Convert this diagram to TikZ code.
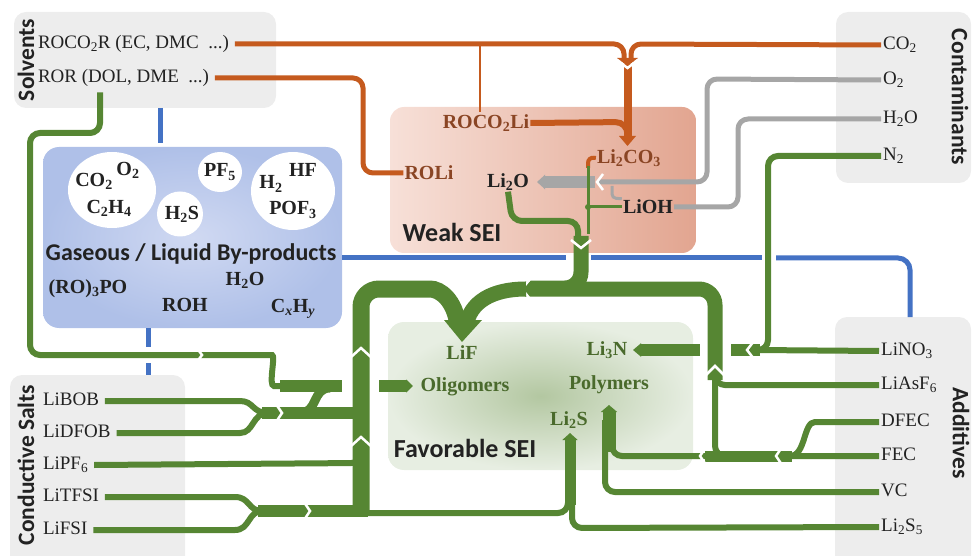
\documentclass[tikz,border=0pt]{standalone}
\usepackage{fontspec}
\setmainfont{Liberation Serif}
\newfontfamily\hdrfont{Carlito}
\usetikzlibrary{arrows.meta,shapes.geometric}
\definecolor{gr}{HTML}{568633}
\definecolor{orn}{HTML}{C55A1E}
\definecolor{blu}{HTML}{4472C4}
\definecolor{gry}{HTML}{A6A6A6}
\definecolor{boxg}{HTML}{EDEDED}
\definecolor{txt}{HTML}{222222}
\definecolor{brn}{HTML}{8A4524}
\definecolor{gtx}{HTML}{4A6A2C}
\definecolor{wl}{HTML}{F7E0D8}
\definecolor{wr}{HTML}{E2A590}
\definecolor{gin}{HTML}{D0D9F2}
\definecolor{gout}{HTML}{AFC0E8}
\definecolor{fin}{HTML}{B3C7A1}
\definecolor{fout}{HTML}{E7EEE2}
\begin{document}
\begin{tikzpicture}[x=1pt,y=-1pt,
  lab/.style={font=\fontsize{19}{22}\selectfont, text=txt, inner sep=2pt, text height=13pt, text depth=4pt},
  llab/.style={lab, anchor=west, outer sep=4pt},
  rlab/.style={lab, anchor=west},
  blab/.style={font=\bfseries\fontsize{20}{22}\selectfont, text=txt, inner sep=1pt},
  hdr/.style={font=\hdrfont\bfseries\fontsize{23.5}{26}\selectfont, text=txt, inner sep=0pt},
  catbox/.style={fill=boxg, rounded corners=12pt, draw=none},
  thin/.style={draw=gr, line width=6pt, rounded corners=10pt},
  hair/.style={draw=gr, line width=3pt},
  band/.style={draw=gr, line width=15pt, rounded corners=16pt},
  oline/.style={draw=orn, line width=5pt, rounded corners=10pt},
  gline/.style={draw=gry, line width=5pt, rounded corners=10pt},
  bline/.style={draw=blu, line width=5pt, rounded corners=12pt},
  notch/.style={draw=white, line width=2.5pt, line join=miter},
  bub/.style={ellipse, fill=white, inner sep=0pt},
]
\useasboundingbox (0,0) rectangle (972,556);
% ---------- boxes ----------
\node[catbox, minimum width=262pt, minimum height=96pt] (solvbox) at (145,60) {};
\node[catbox, minimum width=135pt, minimum height=171pt] (contbox) at (903.5,97.5) {};
\node[catbox, minimum width=175pt, minimum height=195pt] (saltbox) at (97.5,472.5) {};
\node[catbox, minimum width=136pt, minimum height=253pt] (addbox) at (903,443.5) {};
\node[rounded corners=14pt, left color=wl, right color=wr, minimum width=306pt, minimum height=146pt] (weakbox) at (543,180) {};
\node[rounded corners=16pt, inner color=gin, outer color=gout, minimum width=299pt, minimum height=181pt] (gasbox) at (192.5,237.5) {};
\node[rounded corners=16pt, inner color=fin, outer color=fout, minimum width=305pt, minimum height=148pt] (favbox) at (540.5,396) {};
% bubbles
\node[bub, minimum width=88pt, minimum height=76pt] (c1) at (112,190) {};
\node[bub, minimum width=44pt, minimum height=40pt] (c2) at (220,172) {};
\node[bub, minimum width=46pt, minimum height=45pt] (c3) at (180,214) {};
\node[bub, minimum width=84pt, minimum height=78pt] (c4) at (293,191) {};
% ---------- labels ----------
\node[hdr, rotate=90] (solvhdr) at (26,60) {Solvents};
\node[llab] (roco2r) at (32,44) {ROCO\textsubscript{2}R (EC, DMC~ ...)};
\node[llab] (ror) at (32,78) {ROR (DOL, DME~ ...)};
\node[hdr, rotate=-90] (conthdr) at (960,97) {Contaminants};
\node[rlab] (co2) at (881,45) {CO\textsubscript{2}};
\node[rlab] (o2) at (881,80) {O\textsubscript{2}};
\node[rlab] (h2o) at (881,119) {H\textsubscript{2}O};
\node[rlab] (n2) at (881,156) {N\textsubscript{2}};
\node[hdr, rotate=90] (salthdr) at (26,465) {Conductive Salts};
\node[llab] (libob) at (37,401) {LiBOB};
\node[llab] (lidfob) at (37,433) {LiDFOB};
\node[llab] (lipf6) at (37,465) {LiPF\textsubscript{6}};
\node[llab] (litfsi) at (37,497) {LiTFSI};
\node[llab] (lifsi) at (37,530) {LiFSI};
\node[hdr, rotate=-90] (addhdr) at (961,433) {Additives};
\node[rlab] (lino3) at (879,351) {LiNO\textsubscript{3}};
\node[rlab] (liasf6) at (879,385) {LiAsF\textsubscript{6}};
\node[rlab] (dfec) at (879,422) {DFEC};
\node[rlab] (fec) at (879,456) {FEC};
\node[rlab] (vc) at (879,492) {VC};
\node[rlab] (li2s5) at (879,527) {Li\textsubscript{2}S\textsubscript{5}};
% weak SEI
\node[blab, text=brn] (roco2li) at (486,123) {ROCO\textsubscript{2}Li};
\node[blab, text=brn] (roli) at (429,173) {ROLi};
\node[blab, text=brn] (li2co3) at (629,158) {Li\textsubscript{2}CO\textsubscript{3}};
\node[blab] (li2o) at (508,182) {Li\textsubscript{2}O};
\node[blab] (lioh) at (648,207) {LiOH};
\node[hdr, font=\hdrfont\bfseries\fontsize{26}{28}\selectfont] (weaksei) at (452,232) {Weak SEI};
% gaseous
\node[blab] (gco2) at (94,181) {CO\textsubscript{2}};
\node[blab] (go2) at (128,170) {O\textsubscript{2}};
\node[blab] (gc2h4) at (109,208) {C\textsubscript{2}H\textsubscript{4}};
\node[blab] (gpf5) at (220,172) {PF\textsubscript{5}};
\node[blab] (gh2s) at (182,214) {H\textsubscript{2}S};
\node[blab] (gh2) at (271,184) {H\textsubscript{2}};
\node[blab] (ghf) at (303,170) {HF};
\node[blab] (gpof3) at (293,210) {POF\textsubscript{3}};
\node[hdr, font=\hdrfont\bfseries\fontsize{24}{26}\selectfont] (gastitle) at (191,254) {Gaseous / Liquid By-products};
\node[blab] (gro3po) at (88,289) {(RO)\textsubscript{3}PO};
\node[blab] (groh) at (185,305) {ROH};
\node[blab] (gh2o) at (245,280) {H\textsubscript{2}O};
\node[blab] (gcxhy) at (293,309) {C\textsubscript{\itshape x}H\textsubscript{\itshape y}};
% favorable
\node[blab, text=gtx] (lif) at (462,353) {LiF};
\node[blab, text=gtx] (olig) at (465,387) {Oligomers};
\node[blab, text=gtx] (li3n) at (607,350) {Li\textsubscript{3}N};
\node[blab, text=gtx] (poly) at (609,385) {Polymers};
\node[blab, text=gtx] (li2s) at (569,420) {Li\textsubscript{2}S};
\node[hdr, font=\hdrfont\bfseries\fontsize{26}{28}\selectfont] (favsei) at (465,448) {Favorable SEI};
% ---------- blue ----------
\draw[bline] (160,108) -- (160,143);
\draw[bline] (148,328) -- (148,347);
\draw[bline] (148,363) -- (148,375);
\draw[bline] (342,258) -- (566,258);
\draw[bline] (591,258) -- (762,258);
\draw[bline] (776,258) -- (910,258) -- (910,317);
% ---------- orange ----------
\draw[oline] (roco2r.east) -- (624,44) -- (624,62);
\draw[oline] (co2.west) -- (631,44) -- (631,62);
\fill[orn] (617,58) -- (638,58) -- (627.5,66) -- cycle;
\draw[orn, line width=8pt] (627.5,64) -- (627.5,136);
\draw[notch] (617,60) -- (627.5,68) -- (638,60);
\draw[orn, line width=6pt, rounded corners=12pt] (roco2li.east) -- (627.5,122) -- (627.5,138);
\fill[orn] (619,136) -- (636,136) -- (627.5,146) -- cycle;
\draw[orn, line width=2.5pt] (480,46) -- (480,112);
\draw[oline] (ror.east) -- (363,78) -- (363,173) -- (roli.west);
\draw[orn, line width=4pt, rounded corners=6pt] (li2co3.west) -- (588,157) -- (588,168);
% ---------- gray ----------
\draw[gline] (o2.west) -- (707,79) -- (707,182) -- (598,182);
\draw[gry, line width=12pt, -{Triangle[length=8pt,width=14pt]}] (595,182) -- (537,182);
\draw[gline] (h2o.west) -- (738,119) -- (738,207) -- (lioh.east);
\draw[gry, line width=3pt, rounded corners=4pt] (lioh.north west) -- (612,198) -- (612,186);
% ---------- green, weak SEI ----------
\draw[hair] (588,166) -- (588,234);
\draw[hair] (lioh.west) -- (588,207);
\fill[gr] (588,207) circle (3pt);
\draw[notch] (603,174) -- (597,182) -- (603,190);
\draw[gr, line width=6pt, rounded corners=10pt] (li2o.south) -- (512,221) -- (578,221) -- (578,238);
\draw[band] (581,236) -- (581,288) -- (530,288);
\draw[notch] (571,240) -- (581,248) -- (591,240);
% ---------- green, additives ----------
\draw[thin] (n2.west) -- (768,156) -- (768,350) -- (756,350);
\draw[thin] (lino3.west) -- (756,350);
\draw[gr, line width=12pt, -{Triangle[length=8pt,width=13pt]}] (760,350) -- (633,350);
\fill[white] (700,340) rectangle (731,360);
\draw[thin] (liasf6.west) -- (715,385) -- (715,378);
\draw[thin] (745,456) -- (715,456) -- (715,378);
\draw[band] (715,380) -- (715,289) -- (525,289);
\draw[notch] (706,375) -- (715,366) -- (724,375);
\draw[notch] (530,279) -- (522,289) -- (530,299);
\draw[notch] (754,341) -- (747,350) -- (754,359);
\draw[thin] (fec.west) -- (612,456) -- (612,420);
\draw[gr, line width=11pt] (705,456) -- (792,456);
\draw[gr, line width=6pt] (dfec.west) -- (815,422) .. controls (803,422) and (806,456) .. (790,456);
\draw[notch] (782,447) -- (776,456) -- (782,465);
\draw[notch] (706,447) -- (700,456) -- (706,465);
\draw[thin] (vc.west) -- (605,492) -- (605,420);
\draw[gr, line width=13pt, -{Triangle[length=7pt,width=16pt]}] (609,452) -- (609,405);
\draw[thin] (li2s5.west) -- (572,528) -- (572,445);
\draw[thin] (350,513) -- (568,513) -- (568,445);
\draw[gr, line width=11pt, -{Triangle[length=7pt,width=15pt]}] (570,505) -- (570,433);
% ---------- green, left ----------
\draw[thin] (ror.south -| 100,0) -- (100,133) -- (30,133) -- (30,355) -- (262,355) .. controls (276,355) and (268,386) .. (284,386) -- (300,386);
\draw[notch] (196,347) -- (202,355) -- (196,363);
\draw[gr, line width=12pt] (280,386) -- (342,386);
\draw[gr, line width=12pt, -{Triangle[length=7pt,width=13pt]}] (379,386) -- (413,386);
\draw[gr, line width=6pt] (libob.east) -- (240,401) .. controls (254,401) and (252,413) .. (268,413);
\draw[gr, line width=6pt] (lidfob.east) -- (240,433) .. controls (254,433) and (252,413) .. (268,413);
\draw[gr, line width=12pt] (262,413) -- (361,413);
\draw[gr, line width=9pt] (300,413) .. controls (318,413) and (312,388) .. (330,388);
\draw[notch] (276,404) -- (282,413) -- (276,422);
\draw[gr, line width=6pt, rounded corners=10pt] (lipf6.east) -- (361,463) -- (361,445);
\draw[gr, line width=6pt] (litfsi.east) -- (235,497) .. controls (250,497) and (248,511) .. (262,511);
\draw[gr, line width=6pt] (lifsi.east) -- (235,530) .. controls (250,530) and (248,511) .. (262,511);
\draw[gr, line width=12pt] (258,511) -- (368,511);
\draw[notch] (304,502) -- (310,511) -- (304,520);
\draw[gr, line width=17pt, rounded corners=18pt] (361,514) -- (361,289) -- (412,289) .. controls (440,289) and (455,300) .. (458,326);
\draw[gr, line width=15pt] (526,289) .. controls (492,289) and (470,302) .. (466,326);
\fill[gr] (444,320) -- (482,320) -- (462,342) -- cycle;
\draw[notch] (350,358) -- (361,348) -- (372,358);
\draw[notch] (350,447) -- (361,437) -- (372,447);
\end{tikzpicture}
\end{document}
